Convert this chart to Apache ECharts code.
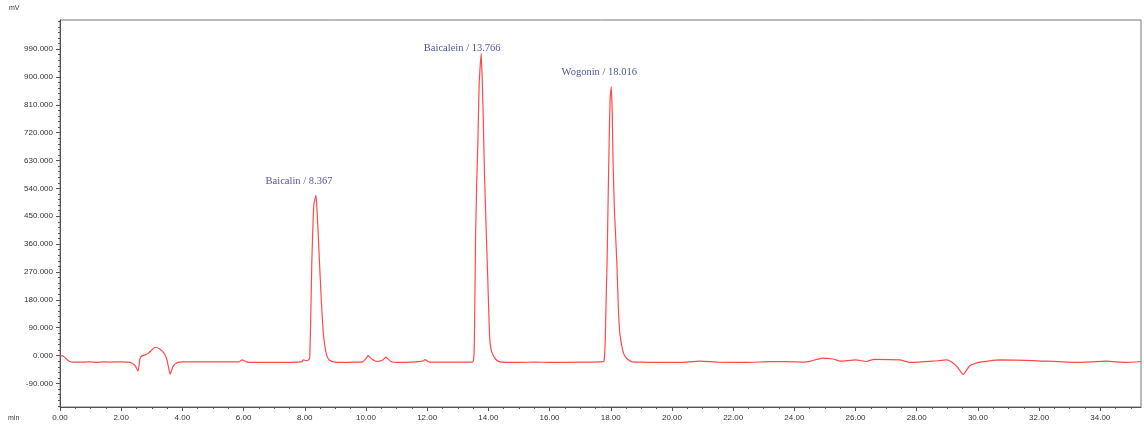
<!DOCTYPE html>
<html>
<head>
<meta charset="utf-8">
<script src="https://cdn.jsdelivr.net/npm/echarts@6/dist/echarts.min.js"></script>
<style>
  html, body { margin: 0; padding: 0; background: #fff; }
  #chart { width: 1144px; height: 429px; }
</style>
</head>
<body>
<div id="chart"></div>
<script>
// retention time (min) and detector signal (mV)
var retentionTimes = [
    0.00, 0.10, 0.20, 0.30, 0.40, 0.80, 1.00, 1.20, 1.40, 1.60, 2.00, 2.30, 2.45, 2.55, 2.62,
    2.70, 2.85, 3.00, 3.10, 3.25, 3.40, 3.50, 3.60, 3.70, 3.85, 4.00, 5.00, 5.85, 5.95, 6.10,
    6.30, 7.00, 7.90, 7.95, 8.05, 8.12, 8.16, 8.19, 8.23, 8.27, 8.30, 8.367, 8.40, 8.44, 8.50,
    8.55, 8.60, 8.65, 8.72, 8.80, 8.95, 9.20, 9.60, 9.90, 10.00, 10.07, 10.20, 10.35, 10.55, 10.65,
    10.80, 11.00, 11.50, 11.85, 11.93, 12.05, 12.40, 13.00, 13.45, 13.50, 13.53, 13.55, 13.58, 13.62, 13.66,
    13.70, 13.766, 13.80, 13.83, 13.87, 13.94, 13.98, 14.02, 14.05, 14.10, 14.19, 14.30, 14.45, 15.00, 15.50,
    16.00, 17.00, 17.70, 17.78, 17.82, 17.86, 17.88, 17.92, 17.95, 17.98, 18.016, 18.05, 18.07, 18.12, 18.20,
    18.25, 18.30, 18.38, 18.45, 18.55, 18.70, 19.00, 19.50, 20.26, 20.90, 21.50, 22.44, 23.00, 23.50, 24.00,
    24.30, 24.60, 24.90, 25.27, 25.50, 26.00, 26.36, 26.60, 27.45, 27.78, 28.54, 28.98, 29.20, 29.35, 29.52,
    29.74, 30.07, 30.70, 31.80, 33.20, 34.20, 34.85, 35.33
];
var signalMV = [
    0, -1, -10, -18, -21, -21, -20, -22, -20, -21, -20, -22, -32, -50, -8,
    0, 5, 18, 27, 22, 8, -15, -60, -33, -22, -20, -20, -20, -14, -20,
    -22, -22, -20, -14, -16, -14, -8, 100, 300, 430, 490, 518, 470, 390, 260,
    160, 80, 35, 0, -14, -20, -22, -21, -20, -10, 0, -12, -19, -14, -5,
    -18, -22, -21, -18, -13, -20, -21, -21, -21, -18, 0, 100, 370, 560, 700,
    880, 976, 890, 780, 600, 372, 250, 120, 48, 15, -5, -17, -21, -22, -21,
    -22, -21, -20, -18, 50, 230, 300, 540, 700, 830, 868, 780, 650, 470, 300,
    150, 70, 22, 0, -12, -20, -21, -22, -22, -18, -21, -22, -20, -19, -20,
    -21, -16, -8, -11, -18, -14, -19, -12, -14, -22, -18, -14, -25, -40, -61,
    -32, -21, -14, -16, -22, -18, -22, -19
];

var peakNames = ['Baicalin', 'Baicalein', 'Wogonin'];
var peakTimes = [8.367, 13.766, 18.016];
var peakValues = [518, 976, 868];

var yTicks = [-90, 0, 90, 180, 270, 360, 450, 540, 630, 720, 810, 900, 990];
var xTicks = [0, 2, 4, 6, 8, 10, 12, 14, 16, 18, 20, 22, 24, 26, 28, 30, 32, 34];

var labelOffsets = [[-17, -3], [-19, 5], [-12, -4]];

var yMinor = [];
for (var v = -162; v <= 1080; v += 18) yMinor.push(v);
var xMinor = [];
for (var t = 0; t <= 35.3; t += 0.5) xMinor.push(t);

var trace = retentionTimes.map(function (t, i) { return [t, signalMV[i]]; });
var peaks = peakNames.map(function (n, i) {
    return {
        value: [peakTimes[i], peakValues[i]],
        name: n,
        label: { offset: labelOffsets[i] }
    };
});

var axisColor = '#555';
var yMin = -166, yMax = 1084, xMin = 0, xMax = 35.33;

var myChart = echarts.init(document.getElementById('chart'));

var option = {
    backgroundColor: '#fff',
    animation: false,
    grid: {
        left: 60,
        right: 3,
        top: 20,
        bottom: 22,
        show: true,
        borderColor: '#777',
        borderWidth: 1
    },
    xAxis: [
        {
            type: 'value', min: xMin, max: xMax, position: 'bottom',
            axisLine: { onZero: false, lineStyle: { color: axisColor } },
            axisTick: { customValues: xTicks, length: 4, lineStyle: { color: axisColor } },
            axisLabel: {
                customValues: xTicks, margin: 7, color: '#333', fontSize: 8,
                fontFamily: 'Liberation Sans',
                formatter: function (v) { return v.toFixed(2); }
            },
            splitLine: { show: false }
        },
        {
            type: 'value', min: xMin, max: xMax, position: 'bottom',
            axisLine: { show: false, onZero: false },
            axisTick: { customValues: xMinor, length: 2, lineStyle: { color: axisColor } },
            axisLabel: { show: false },
            splitLine: { show: false }
        }
    ],
    yAxis: [
        {
            type: 'value', min: yMin, max: yMax, position: 'left',
            axisLine: { show: true, onZero: false, lineStyle: { color: axisColor } },
            axisTick: { show: true, customValues: yTicks, length: 4, lineStyle: { color: axisColor } },
            axisLabel: {
                customValues: yTicks, margin: 7, color: '#333', fontSize: 8,
                fontFamily: 'Liberation Sans',
                formatter: function (v) { return v.toFixed(3); }
            },
            splitLine: { show: false }
        },
        {
            type: 'value', min: yMin, max: yMax, position: 'left',
            axisLine: { show: false, onZero: false },
            axisTick: { show: true, customValues: yMinor, length: 2, lineStyle: { color: axisColor } },
            axisLabel: { show: false },
            splitLine: { show: false }
        }
    ],
    graphic: [
        { type: 'text', left: 9, top: 5, style: { text: 'mV', fontSize: 7, fill: '#333', fontFamily: 'Liberation Sans' } },
        { type: 'text', left: 8, top: 415, style: { text: 'min', fontSize: 7, fill: '#333', fontFamily: 'Liberation Sans' } }
    ],
    series: [
        {
            name: 'signal',
            type: 'line',
            data: trace,
            showSymbol: false,
            smooth: 0.15,
            lineStyle: { color: '#ff4a4a', width: 1.2 },
            z: 3
        },
        {
            name: 'peaks',
            type: 'scatter',
            data: peaks,
            symbolSize: 0,
            label: {
                show: true,
                position: 'top',
                color: '#28288a',
                fontSize: 10.5,
                fontFamily: 'Liberation Serif',
                formatter: function (p) { return p.name + ' / ' + p.value[0].toFixed(3); }
            },
            z: 4
        }
    ]
};

myChart.setOption(option);
</script>
</body>
</html>
